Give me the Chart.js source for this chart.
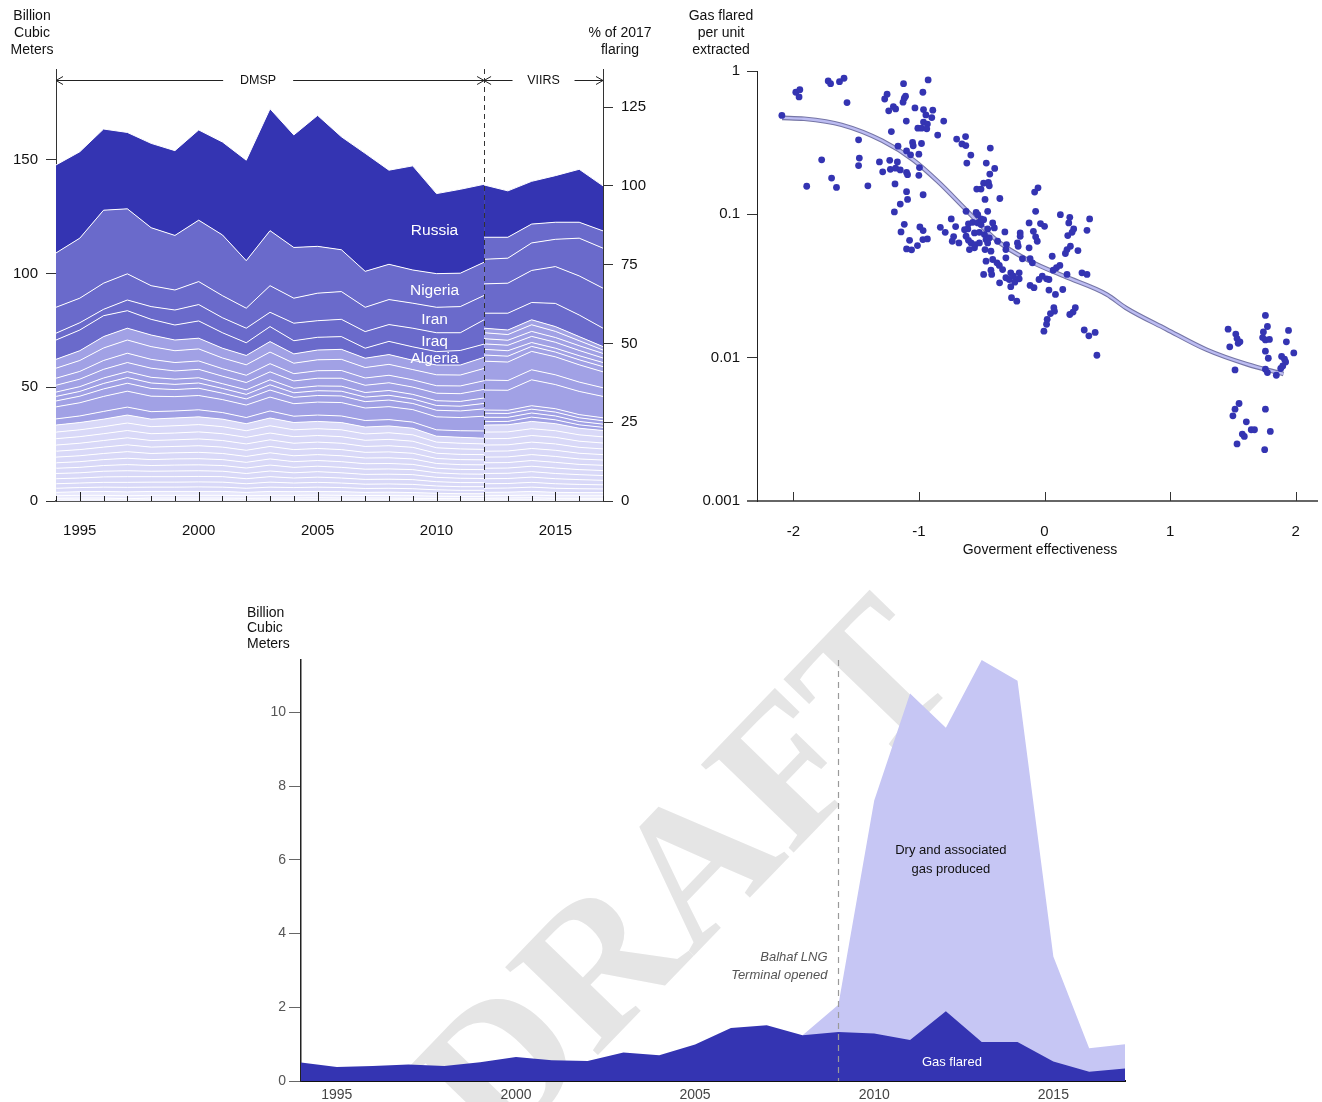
<!DOCTYPE html>
<html>
<head>
<meta charset="utf-8">
<script src="https://cdn.jsdelivr.net/npm/chart.js@4.4.0/dist/chart.umd.min.js"></script>
<style>
  body { margin: 0; background: #fff; }
  #wrap { position: relative; width: 1322px; height: 1102px; overflow: hidden; }
  canvas { position: absolute; }
</style>
</head>
<body>
<div id="wrap">
  <canvas id="flaring" width="660" height="560" style="left:0;top:0"></canvas>
  <canvas id="scatter" width="662" height="560" style="left:660px;top:0"></canvas>
  <canvas id="yemen" width="1322" height="542" style="left:0;top:560px"></canvas>
</div>
<script>
// ---------- top left: flaring by country, billion cubic meters ----------
const dmspYears = [1994, 1995, 1996, 1997, 1998, 1999, 2000, 2001, 2002, 2003, 2004, 2005, 2006, 2007, 2008, 2009, 2010, 2011, 2012];
const viirsYears = [2012, 2013, 2014, 2015, 2016, 2017];
const yearTicks = [1995, 2000, 2005, 2010, 2015];

const dmspRussia  = [38.7, 38.0, 35.7, 33.6, 37.1, 37.3, 39.7, 40.9, 44.2, 53.6, 49.5, 57.6, 49.7, 51.9, 41.4, 45.8, 35.2, 36.9, 34.3];
const dmspNigeria = [23.9, 26.4, 32.1, 28.6, 25.5, 24.0, 27.0, 26.7, 20.9, 24.2, 22.3, 20.6, 18.4, 15.8, 15.5, 14.6, 14.8, 14.7, 14.6];
const dmspIran    = [11.4, 10.8, 11.5, 11.5, 9.2, 8.8, 10.1, 9.7, 8.8, 11.7, 11.0, 12.1, 12.2, 10.7, 11.0, 11.0, 11.2, 11.5, 10.7];
const dmspIraq    = [3.0, 3.2, 2.8, 4.7, 5.6, 6.6, 7.2, 6.6, 6.4, 6.3, 7.7, 7.3, 7.6, 7.3, 7.4, 8.2, 8.3, 7.8, 10.7];
const dmspAlgeria = [8.5, 9.1, 9.2, 7.7, 6.9, 6.6, 7.6, 6.8, 5.6, 6.6, 5.8, 5.6, 5.6, 4.4, 5.8, 5.9, 5.9, 6.4, 5.8];

// next tier of countries, one row per country (top to bottom)
const dmspLightByCountry = [
  [3.9, 4.3, 5.0, 5.2, 5.1, 4.7, 4.7, 4.3, 4.1, 4.6, 4.1, 4.3, 4.4, 4.1, 4.3, 4.1, 4.3, 4.4, 4.9],
  [4.4, 4.8, 5.5, 5.8, 5.6, 5.2, 5.3, 4.7, 4.6, 5.1, 4.6, 4.8, 4.9, 4.6, 4.8, 4.5, 4.8, 4.8, 5.4],
  [3.1, 3.4, 3.9, 4.1, 3.9, 3.7, 3.7, 3.3, 3.2, 3.6, 3.2, 3.3, 3.4, 3.2, 3.3, 3.2, 3.3, 3.4, 3.8],
  [3.0, 3.3, 3.8, 4.0, 4.0, 3.6, 3.7, 3.3, 3.2, 3.5, 3.2, 3.4, 3.5, 3.2, 3.4, 3.2, 3.3, 3.4, 3.8],
  [1.9, 2.1, 2.4, 2.6, 2.5, 2.3, 2.3, 2.1, 2.0, 2.2, 2.0, 2.1, 2.2, 2.0, 2.1, 2.0, 2.1, 2.1, 2.4],
  [2.0, 2.1, 2.4, 2.5, 2.4, 2.3, 2.3, 2.1, 2.0, 2.3, 2.0, 2.1, 2.1, 2.0, 2.1, 2.0, 2.1, 2.1, 2.4],
  [2.6, 2.9, 3.3, 3.5, 3.4, 3.1, 3.2, 2.8, 2.7, 3.1, 2.8, 2.9, 2.9, 2.8, 2.9, 2.7, 2.9, 2.9, 3.2],
  [5.3, 5.8, 6.6, 7.0, 6.8, 6.3, 6.3, 5.7, 5.5, 6.1, 5.5, 5.7, 5.9, 5.5, 5.7, 5.5, 5.7, 5.8, 6.5],
  [2.7, 2.9, 3.4, 3.5, 3.3, 3.1, 3.1, 2.9, 2.7, 3.1, 2.8, 2.8, 2.9, 2.9, 2.8, 2.7, 2.8, 2.9, 3.2]
];

// smaller flaring countries, one row per year (countries top to bottom)
const dmspMinorByYear = [
  [3.1, 2.9, 2.8, 2.7, 2.6, 2.5, 2.4, 2.3, 2.3, 2.2, 2.0, 1.8, 1.5, 1.1, 0.8, 0.4],
  [3.2, 3.0, 2.9, 2.8, 2.7, 2.6, 2.5, 2.4, 2.3, 2.2, 2.0, 1.8, 1.6, 1.2, 0.8, 0.5],
  [3.3, 3.1, 3.0, 2.9, 2.8, 2.7, 2.6, 2.5, 2.5, 2.4, 2.1, 1.9, 1.7, 1.2, 0.8, 0.5],
  [3.5, 3.3, 3.2, 3.1, 3.0, 2.9, 2.8, 2.7, 2.6, 2.5, 2.2, 2.0, 1.7, 1.3, 0.6, 0.4],
  [3.3, 3.1, 3.0, 2.9, 2.8, 2.7, 2.6, 2.5, 2.4, 2.4, 2.2, 1.9, 1.7, 1.2, 0.8, 0.5],
  [3.4, 3.2, 3.0, 2.9, 2.8, 2.7, 2.7, 2.6, 2.5, 2.4, 2.2, 1.9, 1.7, 1.2, 0.8, 0.5],
  [3.4, 3.2, 3.1, 3.0, 2.9, 2.8, 2.7, 2.6, 2.5, 2.4, 2.2, 2.0, 1.7, 1.2, 0.8, 0.5],
  [3.3, 3.1, 3.0, 2.9, 2.8, 2.7, 2.6, 2.5, 2.4, 2.4, 2.2, 1.9, 1.7, 1.2, 0.8, 0.5],
  [3.1, 2.9, 2.9, 2.8, 2.7, 2.6, 2.5, 2.4, 2.3, 2.2, 2.0, 1.8, 1.5, 1.1, 0.8, 0.4],
  [3.4, 3.2, 3.0, 2.9, 2.8, 2.7, 2.7, 2.6, 2.5, 2.4, 2.2, 1.9, 1.7, 1.2, 0.8, 0.5],
  [3.2, 3.0, 2.9, 2.8, 2.7, 2.6, 2.5, 2.4, 2.3, 2.2, 2.0, 1.8, 1.6, 1.2, 0.8, 0.5],
  [3.2, 3.0, 2.9, 2.8, 2.7, 2.6, 2.5, 2.4, 2.4, 2.3, 2.1, 1.9, 1.6, 1.2, 0.9, 0.5],
  [3.2, 3.0, 2.9, 2.8, 2.7, 2.6, 2.5, 2.4, 2.3, 2.2, 2.0, 1.8, 1.6, 1.2, 0.8, 0.5],
  [3.0, 2.8, 2.7, 2.6, 2.5, 2.5, 2.4, 2.3, 2.2, 2.1, 1.9, 1.7, 1.4, 1.1, 0.8, 0.5],
  [3.0, 2.9, 2.8, 2.7, 2.6, 2.5, 2.4, 2.3, 2.2, 2.1, 1.9, 1.7, 1.5, 1.1, 0.8, 0.5],
  [2.9, 2.8, 2.7, 2.6, 2.5, 2.4, 2.3, 2.2, 2.2, 2.1, 1.9, 1.7, 1.4, 1.1, 0.7, 0.5],
  [2.6, 2.5, 2.4, 2.3, 2.2, 2.1, 2.0, 2.0, 1.9, 1.9, 1.7, 1.5, 1.3, 1.0, 0.7, 0.4],
  [2.6, 2.5, 2.4, 2.3, 2.2, 2.1, 2.0, 1.9, 1.9, 1.8, 1.6, 1.5, 1.2, 1.0, 0.6, 0.4],
  [2.5, 2.4, 2.3, 2.3, 2.2, 2.1, 2.0, 1.9, 1.8, 1.8, 1.6, 1.5, 1.2, 1.0, 0.6, 0.4]
];

const viirsRussia  = [23.0, 20.4, 18.8, 20.5, 23.3, 19.8];
const viirsNigeria = [9.7, 9.2, 8.3, 7.5, 7.0, 7.6];
const viirsIran    = [10.8, 11.0, 12.1, 12.0, 16.6, 17.6];
const viirsIraq    = [12.9, 13.2, 14.1, 16.2, 17.2, 17.6];
const viirsAlgeria = [6.6, 7.4, 7.6, 10.2, 9.5, 8.1];

const viirsLightByYear = [
  [2.0, 2.6, 2.3, 2.4, 2.5, 2.7, 8.3, 4.4, 8.8, 1.4, 1.8, 1.9, 1.5],
  [2.0, 2.5, 2.2, 2.4, 2.4, 2.6, 8.1, 4.3, 8.8, 1.4, 1.7, 1.8, 1.5],
  [2.2, 2.9, 2.2, 2.7, 1.7, 2.2, 8.1, 4.4, 11.4, 1.5, 1.7, 1.8, 1.9],
  [2.1, 2.7, 2.1, 2.6, 1.7, 2.1, 7.9, 4.3, 10.6, 1.5, 1.7, 1.7, 1.7],
  [1.8, 2.2, 2.1, 2.3, 1.8, 2.2, 7.6, 4.1, 10.2, 1.4, 1.6, 1.5, 1.5],
  [1.5, 1.5, 2.0, 2.0, 1.8, 2.3, 7.0, 3.8, 9.4, 1.3, 1.5, 1.4, 1.4]
];

const viirsMinorByYear = [
  [3.1, 2.9, 2.8, 2.7, 2.6, 2.5, 2.4, 2.3, 2.3, 2.2, 2.0, 1.8, 1.5, 1.1, 0.8, 0.4],
  [3.1, 2.9, 2.8, 2.7, 2.6, 2.5, 2.4, 2.3, 2.3, 2.2, 2.0, 1.8, 1.5, 1.1, 0.8, 0.5],
  [3.2, 3.0, 2.9, 2.8, 2.7, 2.6, 2.5, 2.4, 2.4, 2.3, 2.1, 1.9, 1.6, 1.2, 0.9, 0.5],
  [3.1, 2.9, 2.9, 2.8, 2.7, 2.6, 2.5, 2.4, 2.3, 2.2, 2.0, 1.8, 1.5, 1.1, 0.8, 0.4],
  [2.9, 2.8, 2.7, 2.6, 2.5, 2.4, 2.3, 2.2, 2.2, 2.1, 1.9, 1.7, 1.4, 1.1, 0.7, 0.5],
  [2.8, 2.7, 2.6, 2.5, 2.4, 2.3, 2.3, 2.2, 2.1, 2.0, 1.8, 1.6, 1.4, 1.1, 0.7, 0.5]
];

const labelledCountries = ['Russia', 'Nigeria', 'Iran', 'Iraq', 'Algeria'];

// ---------- top right: flared share vs government effectiveness ----------
const effectiveness = [
  -2.092, -1.981, -1.949, -1.955, -1.723, -1.704, -1.633, -1.597, -1.573, -1.775,
  -1.894, -1.696, -1.657, -1.481, -1.475, -1.481, -1.407, -1.315, -1.289, -1.254,
  -1.273, -1.241, -1.204, -1.186, -1.123, -0.927, -0.969, -1.117, -1.107, -1.127,
  -1.032, -0.964, -0.890, -0.945, -0.898, -0.964, -0.933, -1.009, -0.980, -0.938,
  -1.101, -0.803, -1.220, -0.851, -1.167, -1.051, -1.046, -0.980, -1.099, -1.067,
  -1.001, -1.233, -1.172, -1.228, -1.186, -1.149, -1.099, -1.091, -1.001, -0.996,
  -1.191, -1.099, -1.091, -1.149, -1.196, -0.967, -1.117, -1.143, -0.993, -0.967,
  -1.075, -0.969, -0.933, -1.012, -1.099, -1.059, -0.830, -0.791, -0.743, -0.708,
  -0.724, -0.735, -0.682, -0.700, -0.658, -0.629, -0.627, -0.619, -0.587, -0.464,
  -0.432, -0.397, -0.436, -0.625, -0.545, -0.532, -0.540, -0.506, -0.485, -0.447,
  -0.440, -0.474, -0.453, -0.356, -0.606, -0.611, -0.637, -0.572, -0.532, -0.506,
  -0.506, -0.485, -0.453, -0.413, -0.400, -0.558, -0.519, -0.625, -0.606, -0.585,
  -0.553, -0.519, -0.598, -0.558, -0.479, -0.466, -0.453, -0.440, -0.474, -0.427,
  -0.374, -0.316, -0.303, -0.308, -0.308, -0.466, -0.413, -0.379, -0.360, -0.427,
  -0.421, -0.485, -0.334, -0.308, -0.281, -0.269, -0.247, -0.202, -0.237, -0.269,
  -0.202, -0.358, -0.263, -0.221, -0.194, -0.194, -0.216, -0.210, -0.123, -0.089,
  -0.071, -0.058, -0.123, -0.176, -0.115, -0.097, -0.032, 0.000, -0.071, -0.079,
  -0.052, 0.126, 0.201, 0.193, 0.232, 0.219, 0.185, 0.359, 0.338, 0.206,
  0.179, 0.166, 0.266, 0.061, 0.122, 0.095, 0.069, 0.179, 0.298, 0.338,
  -0.044, -0.018, 0.016, 0.035, -0.115, -0.084, 0.035, 0.087, 0.145, 0.074,
  0.079, 0.047, 0.021, 0.016, -0.005, 0.245, 0.227, 0.201, 0.316, 0.353,
  0.403, 0.417, 1.462, 1.523, 1.533, 1.475, 1.542, 1.556, 1.517, 1.759,
  1.775, 1.743, 1.737, 1.759, 1.791, 1.759, 1.782, 1.943, 1.926, 1.985,
  1.888, 1.911, 1.920, 1.881, 1.897, 1.846, 1.759, 1.775, 1.549, 1.517,
  1.500, 1.607, 1.575, 1.591, 1.646, 1.672, 1.759, 1.798, 1.533, 1.753
];
const flaredPerUnit = [
  0.49, 0.711, 0.741, 0.659, 0.852, 0.816, 0.842, 0.89, 0.602, 0.240,
  0.157, 0.179, 0.154, 0.331, 0.247, 0.219, 0.158, 0.232, 0.198, 0.689,
  0.638, 0.527, 0.565, 0.544, 0.816, 0.866, 0.711, 0.646, 0.667, 0.606,
  0.553, 0.538, 0.533, 0.494, 0.473, 0.440, 0.426, 0.399, 0.399, 0.395,
  0.447, 0.447, 0.378, 0.357, 0.299, 0.317, 0.301, 0.312, 0.277, 0.260,
  0.263, 0.238, 0.232, 0.206, 0.210, 0.204, 0.196, 0.189, 0.187, 0.212,
  0.163, 0.144, 0.127, 0.118, 0.104, 0.137, 0.0852, 0.0754, 0.0817, 0.0770,
  0.0659, 0.0667, 0.0674, 0.0605, 0.0574, 0.0565, 0.0812, 0.0749, 0.0929, 0.0821,
  0.0700, 0.0649, 0.0632, 0.335, 0.310, 0.349, 0.302, 0.228, 0.259, 0.228,
  0.290, 0.209, 0.191, 0.105, 0.103, 0.0995, 0.150, 0.150, 0.165, 0.167,
  0.158, 0.127, 0.105, 0.129, 0.0858, 0.0791, 0.0782, 0.0880, 0.0871, 0.0848,
  0.0929, 0.0918, 0.0791, 0.0871, 0.0804, 0.0742, 0.0749, 0.0703, 0.0659, 0.0632,
  0.0615, 0.0632, 0.0568, 0.0584, 0.0722, 0.0667, 0.0632, 0.0685, 0.0568, 0.0553,
  0.0649, 0.0754, 0.0615, 0.0568, 0.0497, 0.0471, 0.0484, 0.0459, 0.0440, 0.0408,
  0.0381, 0.0381, 0.0412, 0.0361, 0.0351, 0.0391, 0.0370, 0.0391, 0.0336, 0.0313,
  0.0355, 0.0333, 0.0262, 0.0248, 0.0742, 0.0703, 0.0632, 0.0599, 0.0871, 0.0761,
  0.0697, 0.0649, 0.0584, 0.0490, 0.0490, 0.0459, 0.0862, 0.0825, 0.105, 0.143,
  0.153, 0.0995, 0.0953, 0.0871, 0.0791, 0.0749, 0.0711, 0.0929, 0.0774, 0.0599,
  0.0568, 0.0533, 0.0559, 0.0510, 0.0440, 0.0424, 0.0408, 0.0381, 0.0391, 0.0381,
  0.0351, 0.0370, 0.0355, 0.0351, 0.0319, 0.0308, 0.0296, 0.0276, 0.0299, 0.0223,
  0.0211, 0.0203, 0.0185, 0.0171, 0.0153, 0.0223, 0.0208, 0.0200, 0.0156, 0.0142,
  0.0150, 0.0104, 0.0158, 0.0146, 0.0136, 0.0119, 0.0126, 0.0129, 0.00821, 0.0197,
  0.0165, 0.0151, 0.0138, 0.0133, 0.0134, 0.0111, 0.00991, 0.0155, 0.0129, 0.0108,
  0.0102, 0.00975, 0.00933, 0.00840, 0.00876, 0.00754, 0.00830, 0.00787, 0.00479, 0.00437,
  0.00393, 0.00357, 0.00293, 0.00282, 0.00314, 0.00314, 0.00437, 0.00306, 0.00250, 0.00228
];
const fitX = [-2.09, -1.915, -1.616, -1.292, -1.047, -0.848, -0.627, -0.374, -0.113, 0.156, 0.496, 0.646, 0.970, 1.287, 1.611, 1.903];
const fitY = [0.471, 0.464, 0.421, 0.326, 0.240, 0.169, 0.108, 0.065, 0.047, 0.037, 0.0276, 0.0223, 0.0158, 0.0114, 0.0090, 0.0077];
const effectTicks = [-2, -1, 0, 1, 2];
const shareTicks = [0.001, 0.01, 0.1, 1];

// ---------- bottom: Yemen ----------
const yemenYears = [1994, 1995, 1996, 1997, 1998, 1999, 2000, 2001, 2002, 2003, 2004, 2005, 2006, 2007, 2008, 2009, 2010, 2011, 2012, 2013, 2014, 2015, 2016, 2017];
const gasFlared   = [0.50, 0.38, 0.41, 0.45, 0.41, 0.51, 0.65, 0.56, 0.54, 0.77, 0.70, 0.99, 1.44, 1.51, 1.24, 1.33, 1.29, 1.11, 1.89, 1.06, 1.06, 0.53, 0.25, 0.34];
const gasProduced = [null, null, null, null, null, null, null, null, null, null, null, null, null, null, 1.24, 2.07, 7.61, 10.51, 9.58, 11.42, 10.86, 3.38, 0.89, 1.00];
const lngOpened = 2009;

const FONT = '"Liberation Sans", Arial, Helvetica, sans-serif';
Chart.defaults.font.family = FONT;
Chart.defaults.color = '#222';
Chart.defaults.animation = false;
Chart.defaults.plugins.legend.display = false;
Chart.defaults.plugins.tooltip.enabled = false;

const DARK = '#3434b2', MID = '#6a6acb', LIGHT = '#a1a1e5', PALE = '#d9d9f8', PALEST = '#e8e8fc';

function transpose(rows) {
  return rows[0].map((_, j) => rows.map(r => r[j]));
}

function bandDatasets(years, named, lightRows, minorRows, stack) {
  const topDown = [];
  named.forEach(([label, values]) => topDown.push({ label, values, color: label === 'Russia' ? DARK : MID }));
  lightRows.forEach((values, i) => topDown.push({ label: stack + ' tier2 ' + (i + 1), values, color: LIGHT }));
  const minor = transpose(minorRows);
  minor.forEach((values, i) => topDown.push({ label: stack + ' tier3 ' + (i + 1), values, color: i >= minor.length - 4 ? PALEST : PALE }));
  return topDown.reverse().map((b, i) => ({
    label: b.label,
    stack,
    data: years.map((x, k) => ({ x, y: b.values[k] })),
    backgroundColor: b.color,
    borderColor: '#fff',
    borderWidth: 1,
    pointRadius: 0,
    tension: 0,
    fill: i === 0 ? 'origin' : '-1'
  }));
}

const dmspSets = bandDatasets(dmspYears,
  [['Russia', dmspRussia], ['Nigeria', dmspNigeria], ['Iran', dmspIran], ['Iraq', dmspIraq], ['Algeria', dmspAlgeria]],
  dmspLightByCountry, dmspMinorByYear, 'dmsp');
const viirsSets = bandDatasets(viirsYears,
  [['Russia', viirsRussia], ['Nigeria', viirsNigeria], ['Iran', viirsIran], ['Iraq', viirsIraq], ['Algeria', viirsAlgeria]],
  transpose(viirsLightByYear), viirsMinorByYear, 'viirs');

const last = viirsYears.length - 1;
const total2017 = viirsSets.reduce((s, d) => s + d.data[last].y, 0);
const LEFT_MAX = 190;

function drawLines(ctx, lines, x, y0, gap) {
  lines.forEach((t, i) => ctx.fillText(t, x, y0 + i * gap));
}

function drawSpan(ctx, x0, x1, y, label, cx, half) {
  ctx.beginPath();
  ctx.moveTo(x0, y); ctx.lineTo(cx - half, y);
  ctx.moveTo(cx + half, y); ctx.lineTo(x1, y);
  ctx.moveTo(x0 + 7, y - 4); ctx.lineTo(x0, y); ctx.lineTo(x0 + 7, y + 4);
  ctx.moveTo(x1 - 7, y - 4); ctx.lineTo(x1, y); ctx.lineTo(x1 - 7, y + 4);
  ctx.stroke();
  ctx.fillText(label, cx, y);
}

const flaringDecor = {
  id: 'flaringDecor',
  afterDatasetsDraw(chart) {
    const { ctx, chartArea, scales: { x } } = chart;
    ctx.save();
    // year ticks pointing into the plot
    ctx.strokeStyle = '#222';
    ctx.lineWidth = 1;
    for (let yr = Math.ceil(x.min); yr <= x.max; yr++) {
      const px = Math.round(x.getPixelForValue(yr)) + 0.5;
      const len = yr % 5 === 0 ? 9 : 5;
      ctx.beginPath(); ctx.moveTo(px, chartArea.bottom); ctx.lineTo(px, chartArea.bottom - len); ctx.stroke();
    }
    // sensor change
    const split = Math.round(x.getPixelForValue(viirsYears[0])) + 0.5;
    ctx.strokeStyle = '#333';
    ctx.setLineDash([5, 4]);
    ctx.beginPath(); ctx.moveTo(split, chartArea.top); ctx.lineTo(split, chartArea.bottom); ctx.stroke();
    ctx.setLineDash([]);
    // country labels, centred in their band at 2010
    const k = dmspYears.indexOf(2010);
    ctx.fillStyle = '#fff';
    ctx.font = '15.5px ' + FONT;
    ctx.textAlign = 'center';
    ctx.textBaseline = 'middle';
    labelledCountries.forEach(name => {
      const i = chart.data.datasets.findIndex(d => d.stack === 'dmsp' && d.label === name);
      const yTop = chart.getDatasetMeta(i).data[k].y;
      const yBot = chart.getDatasetMeta(i - 1).data[k].y;
      const shift = name === 'Russia' ? -3 : 0;
      ctx.fillText(name, x.getPixelForValue(2010) - 2, (yTop + yBot) / 2 + shift);
    });
    ctx.restore();
  },
  afterDraw(chart) {
    const { ctx, chartArea, scales: { x } } = chart;
    ctx.save();
    ctx.fillStyle = '#111';
    ctx.strokeStyle = '#222';
    ctx.lineWidth = 1;
    ctx.textBaseline = 'middle';
    ctx.textAlign = 'center';
    ctx.font = '14px ' + FONT;
    drawLines(ctx, ['Billion', 'Cubic', 'Meters'], 32, 16, 17);
    drawLines(ctx, ['% of 2017', 'flaring'], 620, 33, 17);
    ctx.font = '12.5px ' + FONT;
    const y = chartArea.top + 11.5;
    const xs = x.getPixelForValue(viirsYears[0]);
    drawSpan(ctx, chartArea.left, xs, y, 'DMSP', x.getPixelForValue(2002.5), 35);
    drawSpan(ctx, xs, chartArea.right, y, 'VIIRS', x.getPixelForValue(2014.5), 31);
    ctx.restore();
  }
};

new Chart(document.getElementById('flaring'), {
  type: 'line',
  data: { datasets: [...dmspSets, ...viirsSets] },
  options: {
    responsive: false,
    layout: { padding: { top: 69 } },
    scales: {
      x: {
        type: 'linear', min: 1994, max: 2017, z: 1,
        afterBuildTicks: s => { s.ticks = yearTicks.map(v => ({ value: v })); },
        ticks: { callback: v => String(v), font: { size: 15 }, color: '#111', padding: 21, maxRotation: 0 },
        grid: { display: false, drawTicks: false },
        border: { color: '#555', width: 2 },
        afterFit: s => { s.height = 59; }
      },
      y: {
        type: 'linear', position: 'left', stacked: true, min: 0, max: LEFT_MAX,
        ticks: { stepSize: 50, includeBounds: false, font: { size: 15 }, color: '#111', padding: 8 },
        grid: { drawOnChartArea: false, tickLength: 10, color: '#333' },
        border: { color: '#333', width: 1 },
        afterFit: s => { s.width = 56; }
      },
      y1: {
        type: 'linear', position: 'right', min: 0, max: LEFT_MAX / total2017 * 100,
        ticks: { stepSize: 25, includeBounds: false, font: { size: 15 }, color: '#111', padding: 8 },
        grid: { drawOnChartArea: false, tickLength: 10, color: '#333' },
        border: { color: '#333', width: 1 },
        afterFit: s => { s.width = 57; }
      }
    }
  },
  plugins: [flaringDecor]
});

// ---------- scatter ----------
const scatterDecor = {
  id: 'scatterDecor',
  afterDatasetsDraw(chart) {
    const { ctx, chartArea, scales: { x } } = chart;
    ctx.save();
    ctx.strokeStyle = '#333';
    ctx.lineWidth = 1;
    effectTicks.forEach(v => {
      const px = Math.round(x.getPixelForValue(v)) + 0.5;
      ctx.beginPath(); ctx.moveTo(px, chartArea.bottom); ctx.lineTo(px, chartArea.bottom - 9); ctx.stroke();
    });
    ctx.restore();
  },
  afterDraw(chart) {
    const { ctx, chartArea } = chart;
    ctx.save();
    ctx.fillStyle = '#111';
    ctx.textAlign = 'center';
    ctx.textBaseline = 'middle';
    ctx.font = '14px ' + FONT;
    drawLines(ctx, ['Gas flared', 'per unit', 'extracted'], 61, 16, 17);
    ctx.fillText('Goverment effectiveness', 380, 550);
    ctx.strokeStyle = '#666';
    ctx.lineWidth = 2;
    ctx.beginPath(); ctx.moveTo(chartArea.left - 10, chartArea.bottom); ctx.lineTo(chartArea.left, chartArea.bottom); ctx.stroke();
    ctx.restore();
  }
};

const fitPoints = fitX.map((x, i) => ({ x, y: fitY[i] }));

new Chart(document.getElementById('scatter'), {
  type: 'scatter',
  data: {
    datasets: [
      {
        label: 'Countries',
        data: effectiveness.map((x, i) => ({ x, y: flaredPerUnit[i] })),
        backgroundColor: DARK, borderWidth: 0, pointRadius: 3.4, order: 0
      },
      {
        type: 'line', label: 'Fit', data: fitPoints, borderColor: '#bcbcf2', borderWidth: 2.4,
        pointRadius: 0, fill: false, cubicInterpolationMode: 'monotone', order: 1
      },
      {
        type: 'line', label: 'Fit edge', data: fitPoints, borderColor: '#7676a6', borderWidth: 4.6,
        pointRadius: 0, fill: false, cubicInterpolationMode: 'monotone', order: 2
      }
    ]
  },
  options: {
    responsive: false,
    layout: { padding: { top: 71 } },
    scales: {
      x: {
        type: 'linear', min: -2.29, max: 2.17, z: 1,
        afterBuildTicks: s => { s.ticks = effectTicks.map(v => ({ value: v })); },
        ticks: { callback: v => String(v), font: { size: 15 }, color: '#111', padding: 22, maxRotation: 0 },
        grid: { display: false, drawTicks: false },
        border: { color: '#666', width: 2 },
        afterFit: s => { s.height = 59; }
      },
      y: {
        type: 'logarithmic', min: 0.001, max: 1,
        afterBuildTicks: s => { s.ticks = shareTicks.map(v => ({ value: v })); },
        ticks: { callback: v => String(v), font: { size: 15 }, color: '#111', padding: 7 },
        grid: { drawOnChartArea: false, tickLength: 10, color: '#333' },
        border: { color: '#222', width: 1 },
        afterFit: s => { s.width = 97; }
      }
    }
  },
  plugins: [scatterDecor]
});

// ---------- Yemen ----------
const draftMark = {
  id: 'draftMark',
  beforeDraw(chart) {
    const ctx = chart.ctx;
    ctx.save();
    ctx.translate(694, 323);
    ctx.rotate(-46 * Math.PI / 180);
    ctx.fillStyle = '#e5e5e5';
    ctx.font = 'bold 195px "Liberation Serif", "Times New Roman", serif';
    ctx.textAlign = 'center';
    ctx.textBaseline = 'middle';
    ctx.fillText('DRAFT', 0, 0);
    ctx.restore();
  }
};

const yemenDecor = {
  id: 'yemenDecor',
  afterDatasetsDraw(chart) {
    const { ctx, chartArea, scales: { x, y } } = chart;
    ctx.save();
    const px = Math.round(x.getPixelForValue(lngOpened)) + 0.5;
    ctx.strokeStyle = '#9a9a9a';
    ctx.lineWidth = 1.2;
    ctx.setLineDash([6, 5]);
    ctx.beginPath(); ctx.moveTo(px, chartArea.top); ctx.lineTo(px, chartArea.bottom); ctx.stroke();
    ctx.setLineDash([]);
    ctx.textBaseline = 'middle';
    ctx.font = 'italic 13px ' + FONT;
    ctx.fillStyle = '#555';
    ctx.textAlign = 'right';
    ctx.fillText('Balhaf LNG', px - 11, 397);
    ctx.fillText('Terminal opened', px - 11, 415);
    ctx.font = '13px ' + FONT;
    ctx.textAlign = 'center';
    ctx.fillStyle = '#111';
    const cx = x.getPixelForValue(2012) + 5;
    ctx.fillText('Dry and associated', cx, y.getPixelForValue(6.26));
    ctx.fillText('gas produced', cx, y.getPixelForValue(5.74));
    ctx.fillStyle = '#fff';
    ctx.fillText('Gas flared', cx + 1, y.getPixelForValue(0.5));
    ctx.restore();
  },
  afterDraw(chart) {
    const ctx = chart.ctx;
    ctx.save();
    ctx.fillStyle = '#111';
    ctx.textAlign = 'left';
    ctx.textBaseline = 'middle';
    ctx.font = '14px ' + FONT;
    drawLines(ctx, ['Billion', 'Cubic', 'Meters'], 247, 53, 15.5);
    ctx.restore();
  }
};

new Chart(document.getElementById('yemen'), {
  type: 'line',
  data: {
    datasets: [
      {
        label: 'Gas flared', data: yemenYears.map((x, i) => ({ x, y: gasFlared[i] })),
        backgroundColor: DARK, borderWidth: 0, pointRadius: 0, fill: 'origin', tension: 0, order: 0
      },
      {
        label: 'Dry and associated gas produced', data: yemenYears.map((x, i) => ({ x, y: gasProduced[i] })),
        backgroundColor: '#c6c6f4', borderWidth: 0, pointRadius: 0, fill: 'origin', tension: 0, order: 1
      }
    ]
  },
  options: {
    responsive: false,
    layout: { padding: { top: 100, right: 197 } },
    scales: {
      x: {
        type: 'linear', min: 1994, max: 2017, z: 1,
        afterBuildTicks: s => { s.ticks = yearTicks.map(v => ({ value: v })); },
        ticks: { callback: v => String(v), font: { size: 14 }, color: '#444', padding: 6, maxRotation: 0 },
        grid: { display: false, drawTicks: false },
        border: { color: '#111', width: 2 },
        afterFit: s => { s.height = 21; }
      },
      y: {
        type: 'linear', min: 0, max: Math.max(...gasProduced.filter(v => v !== null)),
        ticks: { stepSize: 2, includeBounds: false, font: { size: 14 }, color: '#555', padding: 3 },
        grid: { drawOnChartArea: false, tickLength: 12, color: '#666' },
        border: { color: '#222', width: 1.5 },
        afterFit: s => { s.width = 301; }
      }
    }
  },
  plugins: [draftMark, yemenDecor]
});
</script>
</body>
</html>
